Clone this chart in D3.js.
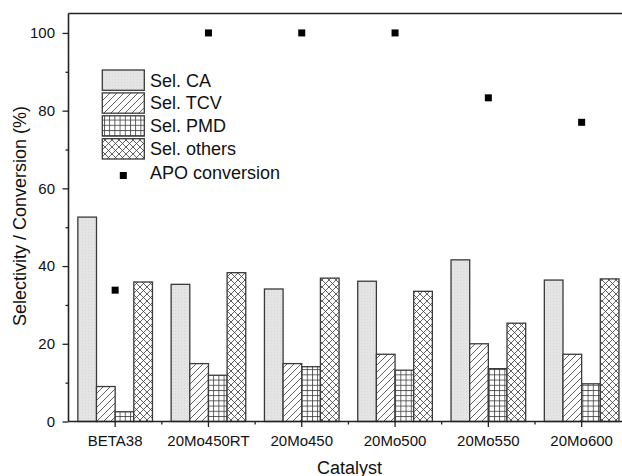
<!DOCTYPE html>
<html>
<head>
<meta charset="utf-8">
<script src="https://cdn.jsdelivr.net/npm/d3@7"></script>
<style>
  html, body { margin: 0; padding: 0; background: #fff; }
  svg { display: block; font-family: "Liberation Sans", Arial, sans-serif; }
</style>
</head>
<body>
<svg id="chart" width="622" height="476"></svg>
<script>
const categories = ["BETA38", "20Mo450RT", "20Mo450", "20Mo500", "20Mo550", "20Mo600"];
const seriesNames = ["Sel. CA", "Sel. TCV", "Sel. PMD", "Sel. others"];
const selCA     = [52.6, 35.3, 34.1, 36.1, 41.6, 36.4];
const selTCV    = [9.0, 14.9, 14.9, 17.3, 20.0, 17.3];
const selPMD    = [2.5, 11.9, 14.1, 13.2, 13.6, 9.7];
const selOthers = [35.9, 38.3, 36.9, 33.5, 25.3, 36.7];
const apoConversion = [33.8, 100, 100, 100, 83.3, 77.0];
const yMajorTicks = [0, 20, 40, 60, 80, 100];
const yMinorTicks = [10, 30, 50, 70, 90];
const legendLabels = ["Sel. CA", "Sel. TCV", "Sel. PMD", "Sel. others", "APO conversion"];

(function () {
const seriesValues = [selCA, selTCV, selPMD, selOthers];
const patternIds = ["pCA", "pTCV", "pPMD", "pOth"];

const svg = d3.select("#chart");
const plotLeft = 68.5, plotTop = 13.5, plotBottom = 421.5, step = 93.3;

const x = d3.scaleBand().domain(categories).range([plotLeft, plotLeft + step * categories.length]).padding(0);
const xi = d3.scaleBand().domain(seriesNames).range([0, x.bandwidth()]).paddingInner(0).paddingOuter(0.5);
const y = d3.scaleLinear().domain([0, 105]).range([plotBottom, plotTop]);

// patterns
const defs = svg.append("defs");
const stroke = "#3a3a3a";
const pCA = defs.append("pattern").attr("id", "pCA").attr("patternUnits", "userSpaceOnUse").attr("width", 3).attr("height", 3);
pCA.append("rect").attr("width", 3).attr("height", 3).attr("fill", "#e4e4e4");
pCA.append("rect").attr("x", 1).attr("y", 1).attr("width", 1).attr("height", 1).attr("fill", "#d8d8d8");
const pT = defs.append("pattern").attr("id", "pTCV").attr("patternUnits", "userSpaceOnUse").attr("width", 7).attr("height", 7);
pT.append("rect").attr("width", 7).attr("height", 7).attr("fill", "#fff");
pT.append("path").attr("d", "M-1,8 L8,-1 M-1,1 L1,-1 M6,8 L8,6").attr("stroke", stroke).attr("stroke-width", 0.8);
const pP = defs.append("pattern").attr("id", "pPMD").attr("patternUnits", "userSpaceOnUse").attr("width", 5.2).attr("height", 5.2);
pP.append("rect").attr("width", 5.2).attr("height", 5.2).attr("fill", "#fff");
pP.append("path").attr("d", "M0,0.5 H5.2 M0.5,0 V5.2").attr("stroke", stroke).attr("stroke-width", 0.8);
const pO = defs.append("pattern").attr("id", "pOth").attr("patternUnits", "userSpaceOnUse").attr("width", 7).attr("height", 7);
pO.append("rect").attr("width", 7).attr("height", 7).attr("fill", "#fff");
pO.append("path").attr("d", "M0,0 L7,7 M0,7 L7,0").attr("stroke", stroke).attr("stroke-width", 0.8);

// bars
const rows = [];
categories.forEach((c, ci) => {
  seriesNames.forEach((s, si) => rows.push({ c, s, si, v: seriesValues[si][ci] }));
});
svg.append("g").selectAll("rect").data(rows).join("rect")
  .attr("x", d => x(d.c) + xi(d.s))
  .attr("y", d => y(d.v))
  .attr("width", xi.bandwidth())
  .attr("height", d => y(0) - y(d.v))
  .attr("fill", d => `url(#${patternIds[d.si]})`)
  .attr("stroke", stroke)
  .attr("stroke-width", 1.3);

// APO conversion markers
svg.append("g").selectAll("rect").data(categories).join("rect")
  .attr("x", c => x(c) + x.bandwidth() / 2 - 3.5)
  .attr("y", (c, i) => y(apoConversion[i]) - 3.5)
  .attr("width", 7).attr("height", 7)
  .attr("fill", "#000");

// axes
const axisColor = "#222";
const yAxis = svg.append("g").attr("transform", `translate(${plotLeft},0)`)
  .call(d3.axisLeft(y).tickValues(yMajorTicks).tickSize(6).tickPadding(7.5).tickFormat(d3.format("d")));
yAxis.select(".domain").remove();
yAxis.selectAll("line").attr("stroke", axisColor).attr("stroke-width", 1.3);
yAxis.selectAll("text").attr("font-size", 15).attr("fill", "#111").attr("font-family", "Liberation Sans, Arial, sans-serif");

const yMinor = svg.append("g").attr("transform", `translate(${plotLeft},0)`)
  .call(d3.axisLeft(y).tickValues(yMinorTicks).tickSize(3).tickFormat(""));
yMinor.select(".domain").remove();
yMinor.selectAll("line").attr("stroke", axisColor).attr("stroke-width", 1.3);

const xAxis = svg.append("g").attr("transform", `translate(0,${plotBottom})`)
  .call(d3.axisBottom(x).tickSize(5.5).tickPadding(8));
xAxis.select(".domain").remove();
xAxis.selectAll("line").attr("stroke", axisColor).attr("stroke-width", 1.3);
xAxis.selectAll("text").attr("font-size", 15).attr("fill", "#111").attr("font-family", "Liberation Sans, Arial, sans-serif");

svg.append("g").selectAll("line").data(categories.slice(1)).join("line")
  .attr("x1", c => x(c)).attr("x2", c => x(c))
  .attr("y1", plotBottom).attr("y2", plotBottom + 3)
  .attr("stroke", axisColor).attr("stroke-width", 1.3);

// frame lines
svg.append("line").attr("x1", plotLeft).attr("x2", 622).attr("y1", plotTop).attr("y2", plotTop).attr("stroke", axisColor).attr("stroke-width", 1.6);
svg.append("line").attr("x1", plotLeft).attr("x2", plotLeft).attr("y1", plotTop).attr("y2", plotBottom).attr("stroke", axisColor).attr("stroke-width", 1.6);
svg.append("line").attr("x1", plotLeft).attr("x2", 622).attr("y1", plotBottom).attr("y2", plotBottom).attr("stroke", axisColor).attr("stroke-width", 1.6);

// axis titles
svg.append("text").attr("x", 349.5).attr("y", 473.5).attr("text-anchor", "middle")
  .attr("font-size", 18).attr("fill", "#111").text("Catalyst");
svg.append("text").attr("transform", "translate(25.5,216) rotate(-90)").attr("text-anchor", "middle")
  .attr("font-size", 18).attr("fill", "#111").text("Selectivity / Conversion (%)");

// legend
const legend = svg.append("g");
const legendBoxX = 102.3, legendBoxW = 42, legendBoxH = 20.3, legendY0 = 70, legendPitch = 22.9;
legendLabels.forEach((lab, i) => {
  const cy = i < 4 ? legendY0 + i * legendPitch + legendBoxH / 2 : 175.5;
  if (i < 4) {
    legend.append("rect").attr("x", legendBoxX).attr("y", legendY0 + i * legendPitch)
      .attr("width", legendBoxW).attr("height", legendBoxH)
      .attr("fill", `url(#${patternIds[i]})`).attr("stroke", stroke).attr("stroke-width", 1.3);
  } else {
    legend.append("rect").attr("x", legendBoxX + legendBoxW / 2 - 3.5).attr("y", cy - 3.5)
      .attr("width", 7).attr("height", 7).attr("fill", "#000");
  }
  legend.append("text").attr("x", 150).attr("y", (i < 4 ? cy : 172.3) + 6.4)
    .attr("font-size", 18).attr("fill", "#111").text(lab);
});
})();
</script>
</body>
</html>
